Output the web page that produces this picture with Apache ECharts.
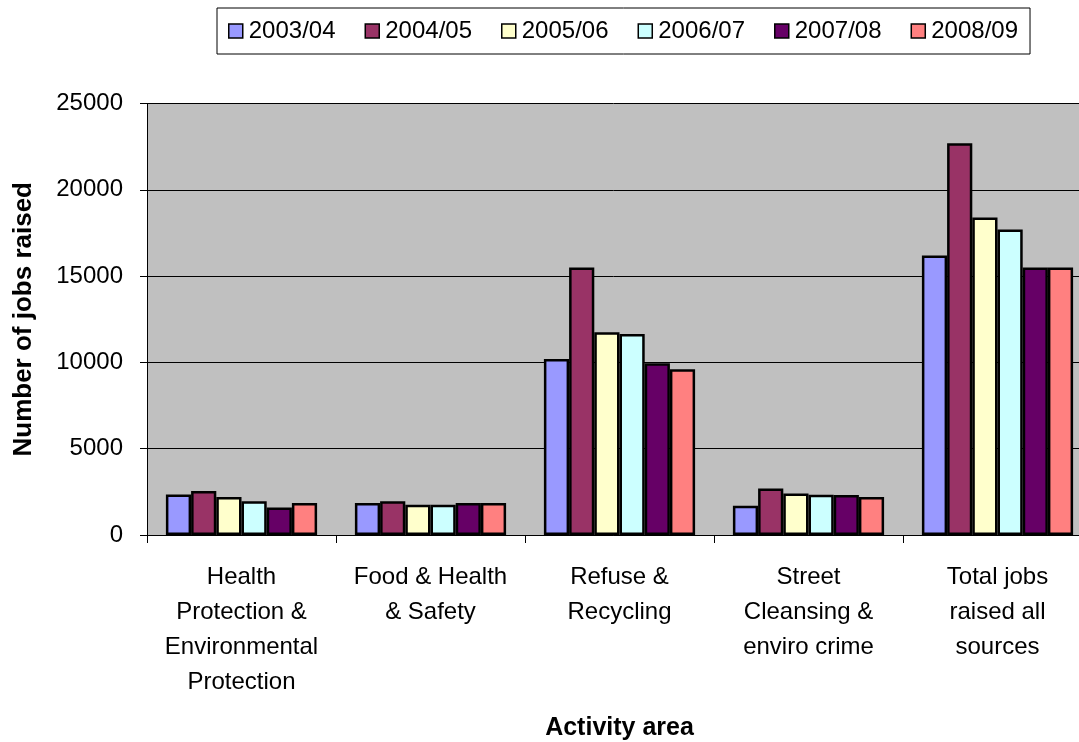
<!DOCTYPE html>
<html>
<head>
<meta charset="utf-8">
<script src="https://cdn.jsdelivr.net/npm/echarts@6/dist/echarts.min.js"></script>
<style>
  html, body { margin: 0; padding: 0; background: #fff; }
  #chart { width: 1079px; height: 742px; }
</style>
</head>
<body>
<div id="chart"></div>
<script>
// Activity areas along the x axis
const categories = [
  'Health\nProtection &\nEnvironmental\nProtection',
  'Food & Health\n& Safety',
  'Refuse &\nRecycling',
  'Street\nCleansing &\nenviro crime',
  'Total jobs\nraised all\nsources'
];

// Financial years (one bar series each)
const years = ['2003/04', '2004/05', '2005/06', '2006/07', '2007/08', '2008/09'];

// Jobs raised per activity area, one array per year
const y2003_04 = [2350, 1850, 10200, 1700, 16200];
const y2004_05 = [2550, 1950, 15500, 2700, 22700];
const y2005_06 = [2200, 1750, 11750, 2400, 18400];
const y2006_07 = [1950, 1750, 11650, 2330, 17700];
const y2007_08 = [1600, 1850, 9950, 2320, 15500];
const y2008_09 = [1850, 1850, 9600, 2200, 15500];

const seriesValues = [y2003_04, y2004_05, y2005_06, y2006_07, y2007_08, y2008_09];
const seriesColors = ['#9999FF', '#993366', '#FFFFCC', '#CCFFFF', '#660066', '#FF8080'];

const FONT = '"Liberation Sans", Arial, sans-serif';

const chart = echarts.init(document.getElementById('chart'), null, { renderer: 'canvas' });

chart.setOption({
  animation: false,
  backgroundColor: '#ffffff',
  textStyle: { fontFamily: FONT, color: '#000' },
  legend: {
    data: years,
    left: 217,
    top: 8,
    padding: [11, 12, 11, 11],
    itemGap: 29,
    itemWidth: 14,
    itemHeight: 14,
    borderColor: '#000',
    borderWidth: 1,
    backgroundColor: '#fff',
    icon: 'rect',
    textStyle: { fontFamily: FONT, fontSize: 24, color: '#000', padding: [0, 0, 0, 1] },
    itemStyle: { borderColor: '#000', borderWidth: 1.5 }
  },
  grid: {
    left: 147,
    right: -13,
    top: 103.5,
    bottom: 207,
    containLabel: false,
    outerBoundsMode: 'none',
    show: true,
    backgroundColor: '#C0C0C0',
    borderWidth: 0
  },
  xAxis: {
    type: 'category',
    data: categories,
    name: 'Activity area',
    nameLocation: 'middle',
    nameGap: 181,
    nameTextStyle: { fontFamily: FONT, fontSize: 25, fontWeight: 'bold', color: '#000' },
    axisLine: { show: true, lineStyle: { color: '#000', width: 1 } },
    axisTick: { show: true, length: 8, alignWithLabel: false, lineStyle: { color: '#000' } },
    axisLabel: {
      interval: 0,
      margin: 25,
      fontFamily: FONT,
      fontSize: 24,
      lineHeight: 35,
      color: '#000',
      align: 'center'
    },
    splitLine: { show: false }
  },
  yAxis: {
    type: 'value',
    min: 0,
    max: 25000,
    interval: 5000,
    name: 'Number of jobs raised',
    nameLocation: 'middle',
    nameGap: 110,
    nameRotate: 90,
    nameTextStyle: { fontFamily: FONT, fontSize: 26, fontWeight: 'bold', color: '#000' },
    axisLine: { show: true, lineStyle: { color: '#000', width: 1 } },
    axisTick: { show: true, inside: false, length: 7, lineStyle: { color: '#000' } },
    axisLabel: {
      margin: 24,
      fontFamily: FONT,
      fontSize: 24,
      color: '#000',
      formatter: v => String(v)
    },
    splitLine: { show: true, lineStyle: { color: '#000', width: 1 } }
  },
  series: years.map((name, i) => ({
    name: name,
    type: 'bar',
    data: seriesValues[i],
    barGap: '0%',
    barCategoryGap: '20%',
    itemStyle: {
      color: seriesColors[i],
      borderColor: '#000',
      borderWidth: 2.5
    }
  }))
});
</script>
</body>
</html>
